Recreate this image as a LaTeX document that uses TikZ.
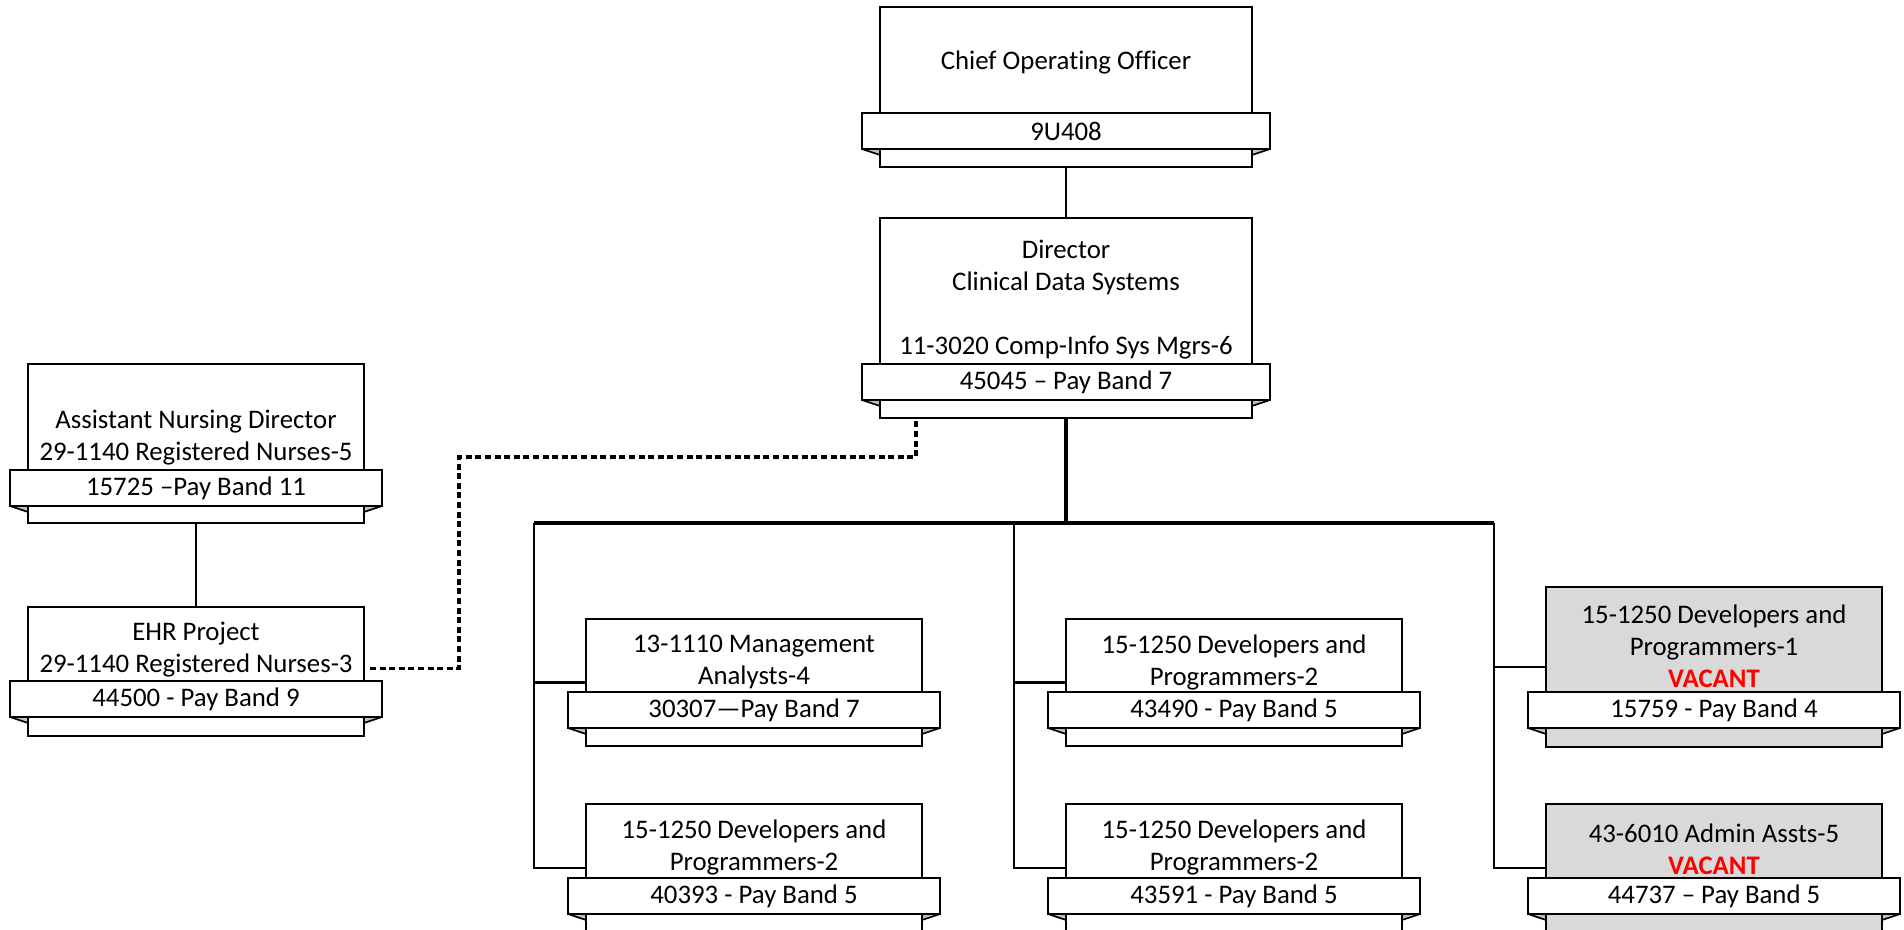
\documentclass[tikz,border=0pt]{standalone}
\usepackage{fontspec}
\setmainfont{Carlito}[Ligatures=NoCommon]
\usetikzlibrary{calc}
\definecolor{vacgray}{HTML}{D9D9D9}
\definecolor{foldgray}{HTML}{BFBFBF}
\definecolor{vacred}{HTML}{FF0000}
\newcommand\boxfont{\fontsize{13.4pt}{16pt}\selectfont}
\tikzset{
  mainbox/.style={draw=black, line width=1.2pt, inner sep=0pt, outer sep=0pt},
  ribbon/.style={draw=black, fill=white, line width=1.2pt, inner sep=0pt, outer sep=0pt, minimum height=18pt, font=\boxfont},
  fold/.style={draw=black, fill=foldgray, line width=0.8pt, line join=bevel},
  txt/.style={font=\boxfont, align=center, inner sep=0pt},
  conn/.style={line width=1.2pt},
  busline/.style={line width=1.6pt},
  dotconn/.style={line width=1.8pt, dash pattern=on 3pt off 1.8pt}
}
% name, cx, top, bottom, ribbon top, width, fill, ribbon text
\newcommand\posbox[8]{%
  \node[mainbox, fill=#7, minimum width={#6*0.5pt}, minimum height={(#4-#3)*0.5pt}] (#1) at (#2,{(#3+#4)/2}) {};
  \filldraw[fold] ({#2-#6/2-18},{#5+36}) -- ({#2-#6/2},{#5+36}) -- ({#2-#6/2},{#5+42}) -- cycle;
  \filldraw[fold] ({#2+#6/2+18},{#5+36}) -- ({#2+#6/2},{#5+36}) -- ({#2+#6/2},{#5+42}) -- cycle;
  \node[ribbon, minimum width={(#6+36)*0.5pt}] (#1-r) at (#2,{#5+18}) {#8};
}
\newcommand\vacant{{\bfseries\color{vacred}VACANT}}
\begin{document}
\begin{tikzpicture}[x=0.5pt, y=-0.5pt]
\clip (0,0) rectangle (1904,930);
\fill[white] (0,0) rectangle (1904,930);

% boxes
\posbox{coo}{1066}{7}{167}{113}{372}{white}{9U408}
\posbox{dir}{1066}{218}{418}{364}{372}{white}{45045 – Pay Band 7}
\posbox{and}{196}{364}{523}{470}{336}{white}{15725 –Pay Band 11}
\posbox{ehr}{196}{607}{736}{681}{336}{white}{44500 - Pay Band 9}
\posbox{mgmt}{754}{619}{746}{692}{336}{white}{30307—Pay Band 7}
\posbox{devl}{754}{804}{932}{878}{336}{white}{40393 - Pay Band 5}
\posbox{devm}{1234}{619}{746}{692}{336}{white}{43490 - Pay Band 5}
\posbox{devn}{1234}{804}{932}{878}{336}{white}{43591 - Pay Band 5}
\posbox{devr}{1714}{587}{747}{692}{336}{vacgray}{15759 - Pay Band 4}
\posbox{adm}{1714}{804}{932}{878}{336}{vacgray}{44737 – Pay Band 5}

% texts
\node[txt] (coo-t) at (1066,63) {Chief Operating Officer};
\node[txt] (dir-t) at (1066,300) {Director\\Clinical Data Systems\\[16pt]11-3020 Comp-Info Sys Mgrs-6};
\node[txt] (and-t) at (196,438) {Assistant Nursing Director\\29-1140 Registered Nurses-5};
\node[txt] (ehr-t) at (196,650) {EHR Project\\29-1140 Registered Nurses-3};
\node[txt] (mgmt-t) at (754,662) {13-1110 Management\\Analysts-4};
\node[txt] (devl-t) at (754,847) {15-1250 Developers and\\Programmers-2};
\node[txt] (devm-t) at (1234,662) {15-1250 Developers and\\Programmers-2};
\node[txt] (devn-t) at (1234,847) {15-1250 Developers and\\Programmers-2};
\node[txt] (devr-t) at (1714,646) {15-1250 Developers and\\Programmers-1\\\vacant};
\node[txt] (adm-t) at (1714,849) {43-6010 Admin Assts-5\\\vacant};

% connectors
\coordinate (busL) at (534,523);
\coordinate (busM) at (1014,523);
\coordinate (busR) at (1494,523);
\coordinate (busC) at (1066,523);
\coordinate (dotbend) at (459,457);

\draw[conn] (coo.south) -- (dir.north);
\draw[conn] (and.south) -- (ehr.north);
\draw[busline] (dir.south) -- (busC);
\draw[busline] (busL) -- (busR);
\draw[conn] (mgmt.west) -| (busL);
\draw[conn] (devl.west) -| (busL);
\draw[conn] (devm.west) -| (busM);
\draw[conn] (devn.west) -| (busM);
\draw[conn] (devr.west) -| (busR);
\draw[conn] (adm.west) -| (busR);
\draw[dotconn] ([xshift=3pt,yshift=1.5pt]ehr.east) -| (dotbend) -| ([xshift=18pt]dir.south west);
\end{tikzpicture}
\end{document}
